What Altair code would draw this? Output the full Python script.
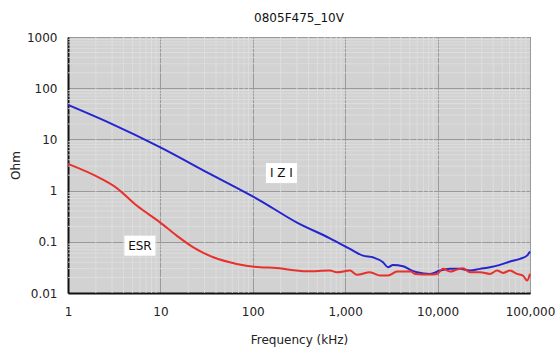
import altair as alt
import pandas as pd

# |Z| curve (frequency kHz, ohm)
z_freq = [1, 2.85, 10, 34.4, 120, 301, 684, 1127, 1558, 2000, 2566, 2905, 3290, 4225,
          5290, 5990, 8280, 10610, 13620, 17480, 22440, 28770, 36900, 47350, 60800,
          78000, 92900, 100000]
z_val = [47.2, 20.8, 7.0, 2.12, 0.64, 0.237, 0.117, 0.0727, 0.0537, 0.0498, 0.0398,
         0.0318, 0.0354, 0.0332, 0.0274, 0.0254, 0.0236, 0.0274, 0.0296, 0.0296, 0.0274,
         0.0296, 0.0318, 0.0354, 0.0411, 0.0463, 0.0537, 0.0644]

# ESR curve
esr_freq = [1, 2.22, 3.37, 5.54, 9.9, 15.0, 22.7, 37.4, 67, 120, 167, 383, 684, 809,
            1127, 1342, 1854, 2380, 2905, 3638, 5140, 5690, 8280, 9860, 11430, 13620,
            16220, 18840, 22440, 28770, 36900, 43950, 51050, 60800, 72300, 83900,
            92900, 100000]
esr_val = [3.32, 1.75, 1.12, 0.51, 0.240, 0.132, 0.078, 0.0498, 0.037, 0.0318, 0.031,
           0.0265, 0.0274, 0.0254, 0.0274, 0.0226, 0.0254, 0.0219, 0.0219, 0.0262,
           0.0262, 0.0236, 0.0229, 0.0236, 0.0296, 0.0262, 0.0286, 0.0304, 0.0254,
           0.0254, 0.0236, 0.0274, 0.0247, 0.0274, 0.0236, 0.0219, 0.0175, 0.0236]

x_major = [1, 10, 100, 1000, 10000, 100000]
y_major = [0.01, 0.1, 1, 10, 100, 1000]
x_minor = [m * d for d in [1, 10, 100, 1000, 10000] for m in range(2, 10)]
y_minor = [m * d for d in [0.01, 0.1, 1, 10, 100] for m in range(2, 10)]

labels = ["I Z I", "ESR"]
label_f = [204, 6.0]
label_z = [2.2, 0.084]

FONT = "DejaVu Sans"

xscale = alt.Scale(type="log", domain=[1, 100000], nice=False)
yscale = alt.Scale(type="log", domain=[0.01, 1000], nice=False)

z_df = pd.DataFrame({"f": z_freq, "v": z_val})
esr_df = pd.DataFrame({"f": esr_freq, "v": esr_val})
lab_df = pd.DataFrame({"f": label_f, "v": label_z, "t": labels})

xaxis = alt.Axis(values=x_major, format=",d", title="Frequency (kHz)", grid=True,
                 gridColor="#9a9a9a", gridWidth=1, ticks=False, labelPadding=13,
                 labelFont=FONT, labelFontSize=12, labelColor="#222",
                 titleFont=FONT, titleFontSize=12, titleFontWeight="normal",
                 titleColor="#222", titlePadding=17, domainColor="#111", domainWidth=2,
                 labelFlush=False)
yaxis = alt.Axis(values=y_major, format="~g", title="Ohm", grid=True,
                 gridColor="#9a9a9a", gridWidth=1, ticks=False, labelPadding=11,
                 labelFont=FONT, labelFontSize=12, labelColor="#222",
                 titleFont=FONT, titleFontSize=12, titleFontWeight="normal",
                 titleColor="#222", titlePadding=4, domainColor="#111", domainWidth=2,
                 labelFlush=False)

xminor = alt.Chart(pd.DataFrame({"f": x_minor})).mark_rule(
    color="#e0e0e0", strokeWidth=0.8).encode(x=alt.X("f:Q", scale=xscale, axis=xaxis))
yminor = alt.Chart(pd.DataFrame({"v": y_minor})).mark_rule(
    color="#e0e0e0", strokeWidth=0.8).encode(y=alt.Y("v:Q", scale=yscale, axis=yaxis))

zline = alt.Chart(z_df).mark_line(color="#2424d0", strokeWidth=2,
                                  interpolate="monotone").encode(
    x=alt.X("f:Q", scale=xscale),
    y=alt.Y("v:Q", scale=yscale),
)
esrline = alt.Chart(esr_df).mark_line(color="#e8302c", strokeWidth=2,
                                      interpolate="monotone").encode(
    x=alt.X("f:Q", scale=xscale),
    y=alt.Y("v:Q", scale=yscale),
)
boxes = alt.Chart(lab_df).mark_rect(color="white", width=31, height=20).encode(
    x=alt.X("f:Q", scale=xscale),
    y=alt.Y("v:Q", scale=yscale),
)
texts = alt.Chart(lab_df).mark_text(font=FONT, fontSize=12, color="#111",
                                    align="center", baseline="middle").encode(
    x=alt.X("f:Q", scale=xscale),
    y=alt.Y("v:Q", scale=yscale),
    text="t:N",
)

chart = alt.layer(xminor, yminor, zline, esrline, boxes, texts).properties(
    width=462, height=256,
    title=alt.TitleParams("0805F475_10V", font=FONT, fontSize=12, fontWeight="normal",
                          color="#111", anchor="middle", offset=6),
    autosize=alt.AutoSizeParams(type="none"),
    padding={"left": 68, "top": 37, "right": 27, "bottom": 56},
    background="white",
).configure_view(
    fill="#d2d2d2", stroke="#333", strokeWidth=1
)

chart.save("out.html", embed_options={"renderer": "svg", "actions": False})
